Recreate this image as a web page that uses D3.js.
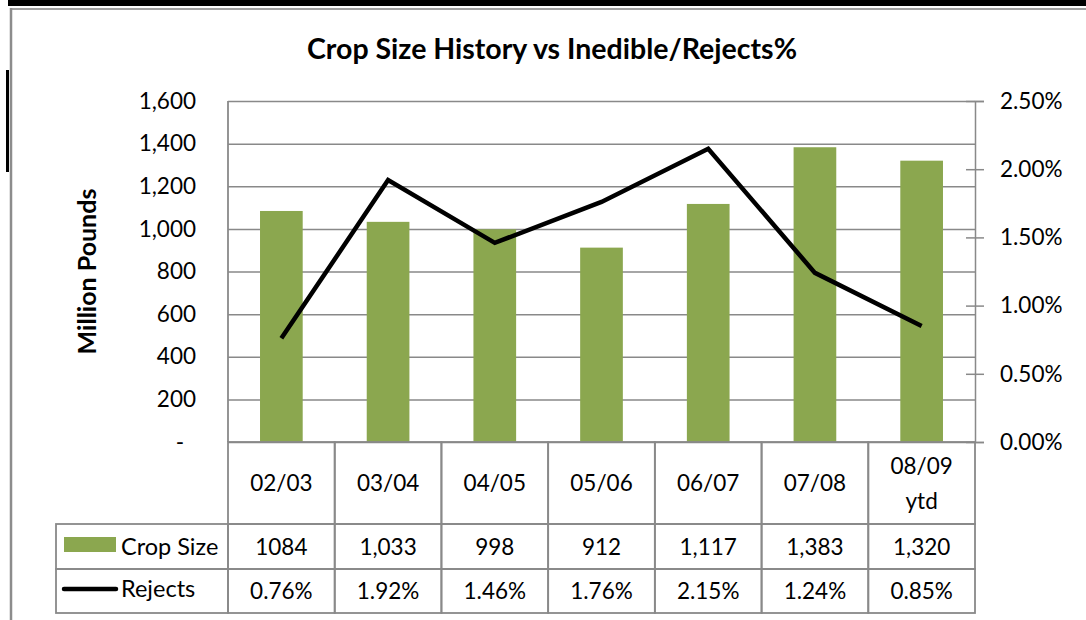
<!DOCTYPE html>
<html lang="en">
<head>
<meta charset="utf-8">
<title>Crop Size History vs Inedible/Rejects%</title>
<script src="https://cdn.jsdelivr.net/npm/d3@7"></script>
<style>
  body { margin: 0; background: #fff; }
  svg { display: block; font-family: Lato, "Open Sans", sans-serif; }
  .grid line { stroke: #898989; stroke-width: 1.5; }
  .tick text { font-family: Lato, sans-serif; font-size: 22.5px; fill: #000; }
  .cell { fill: none; stroke: #898989; stroke-width: 1.8; }
  .cellText { font-size: 22.5px; fill: #000; text-anchor: middle; }
</style>
</head>
<body>
<script>
// values
var categories = ["02/03", "03/04", "04/05", "05/06", "06/07", "07/08", "08/09 ytd"];
var cropSize = [1084, 1033, 998, 912, 1117, 1383, 1320];
var rejects = [0.76, 1.92, 1.46, 1.76, 2.15, 1.24, 0.85];   // percent
var cropLabels = ["1084", "1,033", "998", "912", "1,117", "1,383", "1,320"];
var leftTicks = [0, 200, 400, 600, 800, 1000, 1200, 1400, 1600];
var rightTicks = [0, 0.5, 1, 1.5, 2, 2.5];

var w = 1086, h = 620;
var plotL = 228, plotR = 975, plotT = 101, plotB = 442;
var rowCat = 524, rowCrop = 569, rowRej = 613, legendLeft = 56;

var svg = d3.select("body").append("svg")
  .attr("width", w).attr("height", h);

// frame bits round the edge
svg.append("rect").attr("x", 8).attr("y", 0).attr("width", w - 8).attr("height", 6).attr("fill", "#000");
svg.append("line").attr("x1", 10).attr("x2", w).attr("y1", 9).attr("y2", 9)
  .attr("stroke", "#a0a0a0").attr("stroke-width", 2);
svg.append("line").attr("x1", 11).attr("x2", 11).attr("y1", 8).attr("y2", h)
  .attr("stroke", "#8c8c8c").attr("stroke-width", 2.5);
svg.append("rect").attr("x", 6).attr("y", 70).attr("width", 3).attr("height", 102).attr("fill", "#000");

// scales
var x = d3.scaleBand().domain(categories).range([plotL, plotR])
  .paddingInner(0.6).paddingOuter(0.3);
var y = d3.scaleLinear().domain([0, 1600]).range([plotB, plotT]);
var y2 = d3.scaleLinear().domain([0, 2.5]).range([plotB, plotT]);

// gridlines + left labels
var yAxis = d3.axisLeft(y).tickValues(leftTicks)
  .tickSize(-(plotR - plotL)).tickPadding(32)
  .tickFormat(function(d) { return d === 0 ? "-" : d3.format(",")(d); });
var gy = svg.append("g").attr("class", "grid")
  .attr("transform", "translate(" + plotL + ",0)")
  .call(yAxis)
  .attr("font-family", null).attr("font-size", null);
gy.select(".domain").remove();
gy.selectAll(".tick text").filter(function(d) { return d === 0; }).attr("dx", -12);

// plot left edge runs down into the table
svg.append("line").attr("x1", plotL).attr("x2", plotL).attr("y1", plotT).attr("y2", plotB)
  .attr("stroke", "#898989").attr("stroke-width", 1.8);

// right axis
var y2Axis = d3.axisRight(y2).tickValues(rightTicks)
  .tickSize(9).tickPadding(16)
  .tickFormat(function(d) { return d3.format(".2f")(d) + "%"; });
var gr = svg.append("g").attr("class", "grid")
  .attr("transform", "translate(" + plotR + ",0)")
  .call(y2Axis)
  .attr("font-family", null).attr("font-size", null);
gr.select(".domain").attr("stroke", "#898989").attr("stroke-width", 1.5);
gr.selectAll(".tick line").attr("x1", -9);

// bars
svg.append("g").selectAll("rect")
  .data(categories)
  .enter().append("rect")
  .attr("x", function(d) { return x(d); })
  .attr("width", x.bandwidth())
  .attr("y", function(d, i) { return y(cropSize[i]); })
  .attr("height", function(d, i) { return plotB - y(cropSize[i]); })
  .attr("fill", "#8ba74f");

// rejects line
var line = d3.line()
  .x(function(d, i) { return x(categories[i]) + x.bandwidth() / 2; })
  .y(function(d) { return y2(d); });
svg.append("path").datum(rejects)
  .attr("d", line)
  .attr("fill", "none").attr("stroke", "#000").attr("stroke-width", 4.5)
  .attr("stroke-linejoin", "miter");

// data table
var step = x.step();
var colX = function(i) { return plotL + i * step; };
var tbl = svg.append("g");

// header row
categories.forEach(function(c, i) {
  tbl.append("rect").attr("class", "cell")
    .attr("x", colX(i)).attr("y", plotB).attr("width", step).attr("height", rowCat - plotB);
  var parts = c.split(" ");
  var cx = colX(i) + step / 2, cy = (plotB + rowCat) / 2;
  parts.forEach(function(p, j) {
    tbl.append("text").attr("class", "cellText")
      .attr("x", cx).attr("y", cy + (j - (parts.length - 1) / 2) * 35)
      .attr("dy", "0.36em").text(p);
  });
});

// legend column
tbl.append("rect").attr("class", "cell")
  .attr("x", legendLeft).attr("y", rowCat).attr("width", plotL - legendLeft).attr("height", rowCrop - rowCat);
tbl.append("rect").attr("class", "cell")
  .attr("x", legendLeft).attr("y", rowCrop).attr("width", plotL - legendLeft).attr("height", rowRej - rowCrop);
tbl.append("rect").attr("x", 64).attr("y", 537).attr("width", 52).attr("height", 15).attr("fill", "#8ba74f");
tbl.append("line").attr("x1", 64).attr("x2", 116).attr("y1", 589).attr("y2", 589)
  .attr("stroke", "#000").attr("stroke-width", 4.5).attr("stroke-linecap", "round");
tbl.append("text").attr("x", 121).attr("y", (rowCat + rowCrop) / 2).attr("dy", "0.36em")
  .style("font-size", "23.5px").text("Crop Size");
tbl.append("text").attr("x", 121).attr("y", (rowCrop + rowRej) / 2 - 2).attr("dy", "0.36em")
  .style("font-size", "23.5px").text("Rejects");

// value rows
categories.forEach(function(c, i) {
  tbl.append("rect").attr("class", "cell")
    .attr("x", colX(i)).attr("y", rowCat).attr("width", step).attr("height", rowCrop - rowCat);
  tbl.append("rect").attr("class", "cell")
    .attr("x", colX(i)).attr("y", rowCrop).attr("width", step).attr("height", rowRej - rowCrop);
  tbl.append("text").attr("class", "cellText")
    .attr("x", colX(i) + step / 2).attr("y", (rowCat + rowCrop) / 2).attr("dy", "0.36em")
    .text(cropLabels[i]);
  tbl.append("text").attr("class", "cellText")
    .attr("x", colX(i) + step / 2).attr("y", (rowCrop + rowRej) / 2).attr("dy", "0.36em")
    .text(d3.format(".2f")(rejects[i]) + "%");
});

// titles
svg.append("text").attr("x", 552).attr("y", 59)
  .attr("text-anchor", "middle").style("font-size", "28.5px").style("font-weight", "bold")
  .text("Crop Size History vs Inedible/Rejects%");
svg.append("text")
  .attr("transform", "translate(96," + ((plotT + plotB) / 2) + ") rotate(-90)")
  .attr("text-anchor", "middle").style("font-size", "25px").style("font-weight", "bold")
  .text("Million Pounds");
</script>
</body>
</html>
